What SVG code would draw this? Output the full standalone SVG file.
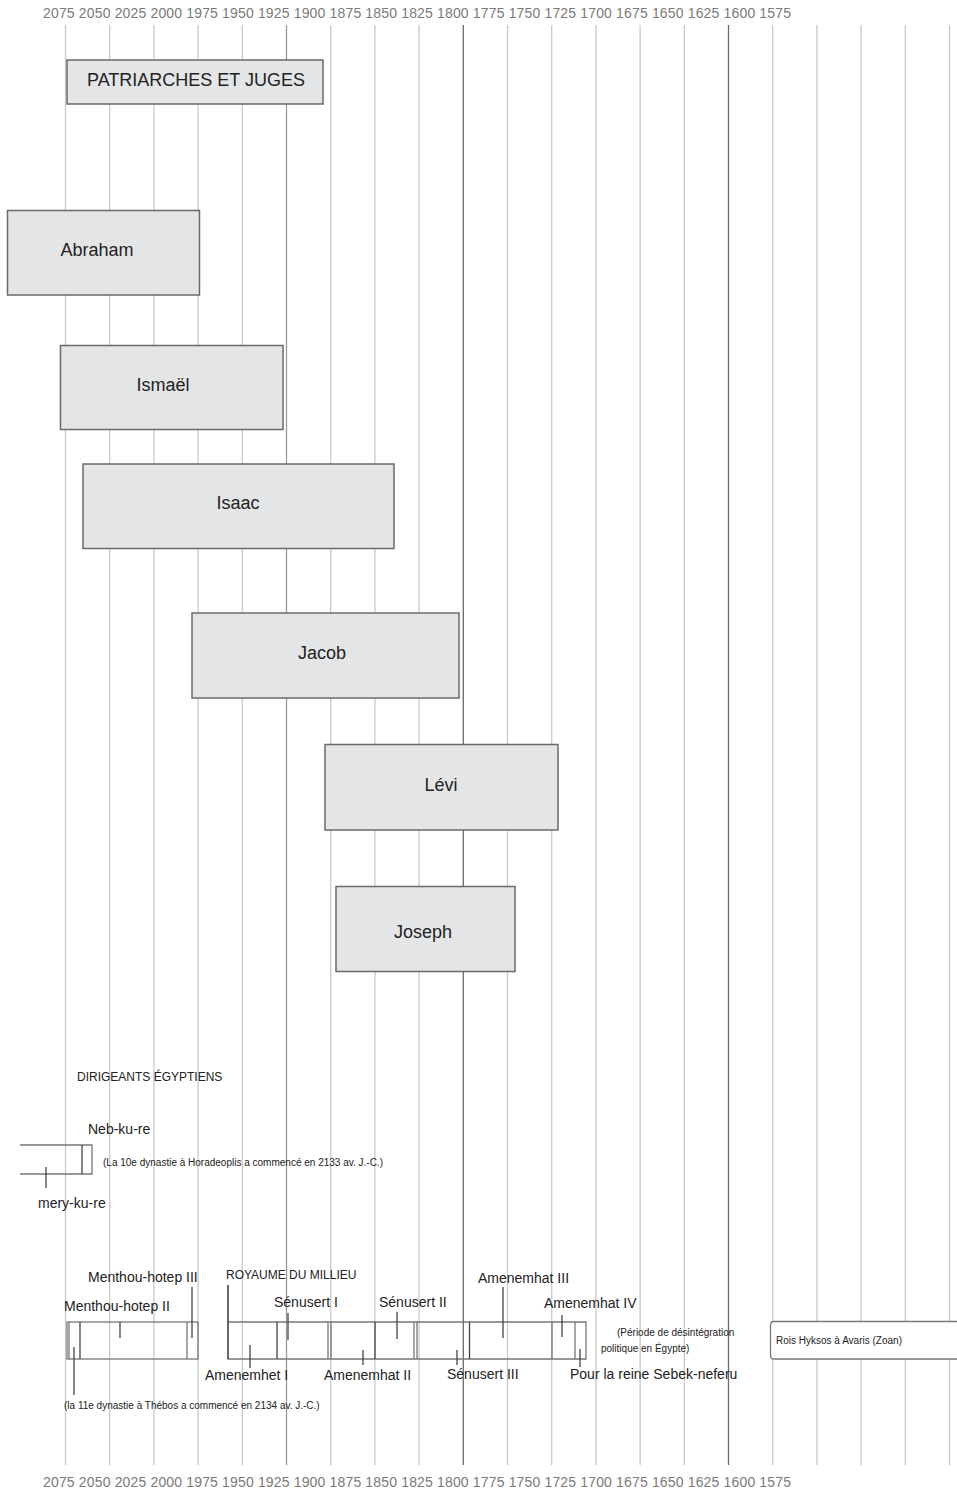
<svg xmlns="http://www.w3.org/2000/svg" width="957" height="1490" viewBox="0 0 957 1490">
<style>
.axis{font-family:"Liberation Sans",Arial,sans-serif;font-size:14px;fill:#7a7a7a}
.grid{stroke:#c9c9c9;stroke-width:1.3}
.gridd{stroke:#6a6a6a;stroke-width:1.3}
.gridm{stroke:#9a9a9a;stroke-width:1.3}
.box{fill:#e4e5e7;stroke:#6a6a6a;stroke-width:1.5}
.bt{font-family:"Liberation Sans",Arial,sans-serif;font-size:18px;fill:#222;text-anchor:middle}
.lbl{font-family:"Liberation Sans",Arial,sans-serif;font-size:14px;fill:#222}
.sm{font-family:"Liberation Sans",Arial,sans-serif;font-size:10px;fill:#222}
.hd{font-family:"Liberation Sans",Arial,sans-serif;font-size:12px;fill:#222}
.eg{fill:none;stroke:#777;stroke-width:1.3}
.tk{stroke:#444;stroke-width:1.3}
</style>
<rect width="957" height="1490" fill="#fff"/>
<g id="axis">
<text class="axis" x="43" y="18" textLength="748" lengthAdjust="spacing">2075 2050 2025 2000 1975 1950 1925 1900 1875 1850 1825 1800 1775 1750 1725 1700 1675 1650 1625 1600 1575</text>
<text class="axis" x="43" y="1487" textLength="748" lengthAdjust="spacing">2075 2050 2025 2000 1975 1950 1925 1900 1875 1850 1825 1800 1775 1750 1725 1700 1675 1650 1625 1600 1575</text>
</g>
<g id="grid">
<line class="grid" x1="65.5" y1="25" x2="65.5" y2="1465"/>
<line class="grid" x1="109.7" y1="25" x2="109.7" y2="1465"/>
<line class="grid" x1="153.9" y1="25" x2="153.9" y2="1465"/>
<line class="grid" x1="198.1" y1="25" x2="198.1" y2="1465"/>
<line class="grid" x1="242.3" y1="25" x2="242.3" y2="1465"/>
<line class="gridm" x1="286.5" y1="25" x2="286.5" y2="1465"/>
<line class="grid" x1="330.7" y1="25" x2="330.7" y2="1465"/>
<line class="grid" x1="374.9" y1="25" x2="374.9" y2="1465"/>
<line class="grid" x1="419.1" y1="25" x2="419.1" y2="1465"/>
<line class="gridd" x1="463.3" y1="25" x2="463.3" y2="1465"/>
<line class="grid" x1="507.5" y1="25" x2="507.5" y2="1465"/>
<line class="grid" x1="551.7" y1="25" x2="551.7" y2="1465"/>
<line class="grid" x1="595.9" y1="25" x2="595.9" y2="1465"/>
<line class="grid" x1="640.1" y1="25" x2="640.1" y2="1465"/>
<line class="grid" x1="684.3" y1="25" x2="684.3" y2="1465"/>
<line class="gridd" x1="728.5" y1="25" x2="728.5" y2="1465"/>
<line class="grid" x1="772.7" y1="25" x2="772.7" y2="1465"/>
<line class="grid" x1="816.9" y1="25" x2="816.9" y2="1465"/>
<line class="grid" x1="861.1" y1="25" x2="861.1" y2="1465"/>
<line class="grid" x1="905.3" y1="25" x2="905.3" y2="1465"/>
<line class="grid" x1="949.5" y1="25" x2="949.5" y2="1465"/>
</g>
<g id="patriarches">
<rect class="box" x="67" y="60" width="256" height="44"/>
<text class="bt" x="196" y="86">PATRIARCHES ET JUGES</text>
</g>
<g id="abraham">
<rect class="box" x="7.5" y="210.5" width="192" height="84.5"/>
<text class="bt" x="97" y="256">Abraham</text>
</g>
<g id="ismael">
<rect class="box" x="60.5" y="345.5" width="222.5" height="84"/>
<text class="bt" x="163" y="391">Ismaël</text>
</g>
<g id="isaac">
<rect class="box" x="83" y="464" width="311" height="84.5"/>
<text class="bt" x="238" y="509">Isaac</text>
</g>
<g id="jacob">
<rect class="box" x="192" y="613" width="267" height="85"/>
<text class="bt" x="322" y="659">Jacob</text>
</g>
<g id="levi">
<rect class="box" x="325" y="744.5" width="233" height="85.5"/>
<text class="bt" x="441" y="791">Lévi</text>
</g>
<g id="joseph">
<rect class="box" x="336" y="886.5" width="179" height="85"/>
<text class="bt" x="423" y="938">Joseph</text>
</g>
<g id="dirigeants">
<text class="hd" x="77" y="1081">DIRIGEANTS ÉGYPTIENS</text>
</g>
<g id="dynastie10">
<path class="eg" d="M20,1145 H92 V1174 H20"/>
<line class="tk" x1="82" y1="1145" x2="82" y2="1174"/>
<line class="tk" x1="46" y1="1167" x2="46" y2="1188"/>
<text class="lbl" x="88" y="1134">Neb-ku-re</text>
<text class="sm" x="103" y="1166">(La 10e dynastie à Horadeoplis a commencé en 2133 av. J.-C.)</text>
<text class="lbl" x="38" y="1208">mery-ku-re</text>
</g>
<g id="dynastie11">
<rect class="eg" x="67" y="1322" width="131" height="37"/>
<line class="eg" x1="69" y1="1322" x2="69" y2="1359"/>
<line class="tk" x1="80" y1="1322" x2="80" y2="1359"/>
<line class="eg" x1="187" y1="1322" x2="187" y2="1359"/>
<line class="tk" x1="192" y1="1287" x2="192" y2="1338"/>
<line class="tk" x1="120" y1="1322" x2="120" y2="1338"/>
<line class="tk" x1="74" y1="1347" x2="74" y2="1395"/>
<text class="lbl" x="88" y="1282">Menthou-hotep III</text>
<text class="lbl" x="64" y="1311">Menthou-hotep II</text>
<text class="sm" x="64" y="1409">(la 11e dynastie à Thébos a commencé en 2134 av. J.-C.)</text>
</g>
<g id="royaume">
<path class="eg" d="M228,1285 V1359 H586 V1322 H228"/>
<line class="tk" x1="228" y1="1285" x2="228" y2="1359"/>
<line class="tk" x1="277" y1="1322" x2="277" y2="1359"/>
<line class="tk" x1="288" y1="1313" x2="288" y2="1340"/>
<line class="tk" x1="250" y1="1345" x2="250" y2="1368"/>
<line class="eg" x1="328" y1="1322" x2="328" y2="1359"/>
<line class="eg" x1="331" y1="1322" x2="331" y2="1359"/>
<line class="tk" x1="375" y1="1322" x2="375" y2="1359"/>
<line class="tk" x1="397" y1="1312" x2="397" y2="1339"/>
<line class="tk" x1="363" y1="1350" x2="363" y2="1365"/>
<line class="eg" x1="414" y1="1322" x2="414" y2="1359"/>
<line class="eg" x1="417" y1="1322" x2="417" y2="1359"/>
<line class="tk" x1="457" y1="1350" x2="457" y2="1365"/>
<line class="tk" x1="469.5" y1="1322" x2="469.5" y2="1359"/>
<line class="tk" x1="503" y1="1287" x2="503" y2="1338"/>
<line class="eg" x1="552" y1="1322" x2="552" y2="1359"/>
<line class="tk" x1="562" y1="1315" x2="562" y2="1337"/>
<line class="eg" x1="575" y1="1322" x2="575" y2="1359"/>
<line class="tk" x1="580" y1="1349" x2="580" y2="1367"/>
<text class="hd" x="226" y="1279">ROYAUME DU MILLIEU</text>
<text class="lbl" x="274" y="1307">Sénusert I</text>
<text class="lbl" x="205" y="1380">Amenemhet I</text>
<text class="lbl" x="324" y="1380">Amenemhat II</text>
<text class="lbl" x="379" y="1307">Sénusert II</text>
<text class="lbl" x="447" y="1379">Sénusert III</text>
<text class="lbl" x="478" y="1283">Amenemhat III</text>
<text class="lbl" x="544" y="1308">Amenemhat IV</text>
<text class="lbl" x="570" y="1379">Pour la reine Sebek-neferu</text>
<text class="sm" x="617" y="1336">(Période de désintégration</text>
<text class="sm" x="601" y="1352">politique en Égypte)</text>
</g>
<g id="hyksos">
<path d="M960,1321.5 H774 Q770.5,1321.5 770.5,1325 V1355.5 Q770.5,1359 774,1359 H960" fill="#fff" stroke="#777" stroke-width="1.3"/>
<text class="sm" x="776" y="1344">Rois Hyksos à Avaris (Zoan)</text>
</g>
</svg>
